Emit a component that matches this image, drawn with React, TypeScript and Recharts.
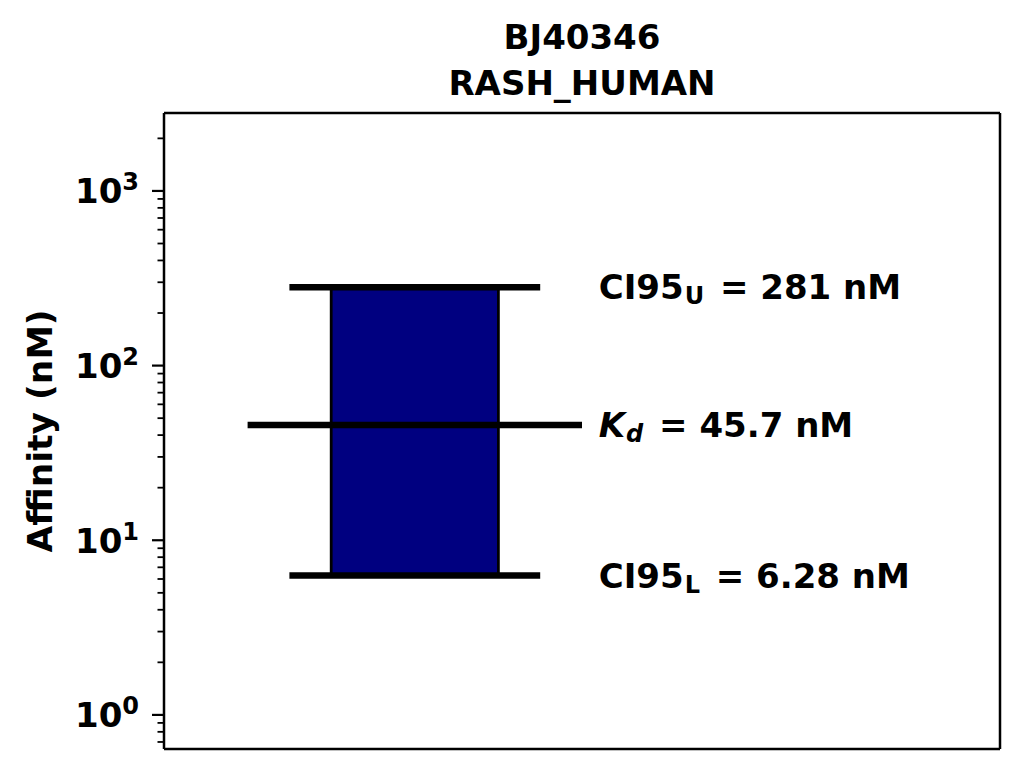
import React from 'react';
import { ComposedChart, XAxis, YAxis, ReferenceArea, ReferenceLine, ReferenceDot, Label } from 'recharts';

// title lines
const titleLines = ['BJ40346', 'RASH_HUMAN'];

// affinity estimate and 95% interval (nM)
const kdValues = [45.7];
const ciLower = [6.28];
const ciUpper = [281];

// x extents in axis units
const boxSpan = [0.2, 0.4];
const ciSpan = [0.15, 0.45];
const kdSpan = [0.1, 0.5];
const noteX = [0.52];

// log axis ticks
const majorTicks = [1, 10, 100, 1000];
const majorExponents = ['0', '1', '2', '3'];
const minorTicks = [0.7, 0.8, 0.9, 2, 3, 4, 5, 6, 7, 8, 9, 20, 30, 40, 50, 60, 70, 80, 90, 200, 300, 400, 500, 600, 700, 800, 900, 2000];
const yDomain = [0.638, 2794];
const xDomain = [0, 1];

const FONT = '"DejaVu Sans", sans-serif';

const rows = kdValues.map((kd, i) => ({ x: (boxSpan[0] + boxSpan[1]) / 2, kd, lo: ciLower[i], hi: ciUpper[i] }));

const LogTick = (props: any) => {
  const { x, y, payload } = props;
  const idx = majorTicks.indexOf(payload.value);
  const major = idx >= 0;
  return (
    <g>
      <line x1={x} x2={x - (major ? 12 : 6.5)} y1={y} y2={y} stroke="#000" strokeWidth={major ? 2.2 : 1.8} />
      {major && (
        <text x={x - 25} y={y + 12.5} textAnchor="end" fontFamily={FONT} fontWeight="bold" fontSize={34} fill="#000">
          10<tspan fontSize={24} dy={-13}>{majorExponents[idx]}</tspan>
        </text>
      )}
    </g>
  );
};

const note = (main: string, sub: string, value: string, italic: boolean) => (p: any) => {
  const { x, y } = p.viewBox;
  return (
    <text x={x} y={y + 12} fontFamily={FONT} fontWeight="bold" fontSize={34} fill="#000">
      <tspan fontStyle={italic ? 'italic' : 'normal'}>{main}</tspan>
      <tspan fontSize={24} dx={1} dy={5} fontStyle={italic ? 'italic' : 'normal'}>{sub}</tspan>
      <tspan dx={4} dy={-5}>{` = ${value} nM`}</tspan>
    </text>
  );
};

export default function App() {
  const spine = { stroke: '#000', strokeWidth: 2.5 };
  return (
    <ComposedChart width={1016} height={767} margin={{ top: 104, right: 23, bottom: 25, left: 96 }} data={rows}>
      <text x={574} y={41} textAnchor="middle" fontFamily={FONT} fontWeight="bold" fontSize={34} fill="#000">{titleLines[0]}</text>
      <text x={574} y={87} textAnchor="middle" fontFamily={FONT} fontWeight="bold" fontSize={34} fill="#000">{titleLines[1]}</text>
      <XAxis xAxisId="b" dataKey="x" type="number" domain={xDomain} allowDataOverflow tick={false} tickLine={false} axisLine={spine} height={1} />
      <XAxis xAxisId="t" dataKey="x" orientation="top" type="number" domain={xDomain} allowDataOverflow tick={false} tickLine={false} axisLine={spine} height={1} />
      <YAxis
        yAxisId="l"
        type="number"
        scale="log"
        domain={yDomain}
        allowDataOverflow
        ticks={[...minorTicks, ...majorTicks].sort((a, b) => a - b)}
        interval={0}
        tick={<LogTick />}
        tickLine={false}
        tickSize={0}
        tickMargin={0}
        axisLine={spine}
        width={60}
      >
        <Label
          content={(p: any) => {
            const { x, y, height } = p.viewBox;
            const cx = x - 64;
            const cy = y + height / 2;
            return (
              <text x={cx} y={cy} transform={`rotate(-90 ${cx} ${cy})`} textAnchor="middle" dominantBaseline="central" fontFamily={FONT} fontWeight="bold" fontSize={34.5} fill="#000">
                Affinity (nM)
              </text>
            );
          }}
        />
      </YAxis>
      <YAxis yAxisId="r" orientation="right" type="number" domain={[0, 1]} tick={false} tickLine={false} axisLine={spine} width={1} />

      <ReferenceArea xAxisId="b" yAxisId="l" x1={boxSpan[0]} x2={boxSpan[1]} y1={ciLower[0]} y2={ciUpper[0]} fill="#000080" fillOpacity={1} stroke="#000" strokeWidth={2.8} ifOverflow="visible" />
      <ReferenceLine xAxisId="b" yAxisId="l" segment={[{ x: ciSpan[0], y: ciUpper[0] }, { x: ciSpan[1], y: ciUpper[0] }]} stroke="#000" strokeWidth={6.5} ifOverflow="visible" />
      <ReferenceLine xAxisId="b" yAxisId="l" segment={[{ x: kdSpan[0], y: kdValues[0] }, { x: kdSpan[1], y: kdValues[0] }]} stroke="#000" strokeWidth={6.5} ifOverflow="visible" />
      <ReferenceLine xAxisId="b" yAxisId="l" segment={[{ x: ciSpan[0], y: ciLower[0] }, { x: ciSpan[1], y: ciLower[0] }]} stroke="#000" strokeWidth={6.5} ifOverflow="visible" />

      <ReferenceDot xAxisId="b" yAxisId="l" x={noteX[0]} y={ciUpper[0]} r={0} fill="none" stroke="none" ifOverflow="visible" label={note('CI95', 'U', String(ciUpper[0]), false)} />
      <ReferenceDot xAxisId="b" yAxisId="l" x={noteX[0]} y={kdValues[0]} r={0} fill="none" stroke="none" ifOverflow="visible" label={note('K', 'd', String(kdValues[0]), true)} />
      <ReferenceDot xAxisId="b" yAxisId="l" x={noteX[0]} y={ciLower[0]} r={0} fill="none" stroke="none" ifOverflow="visible" label={note('CI95', 'L', String(ciLower[0]), false)} />
    </ComposedChart>
  );
}
